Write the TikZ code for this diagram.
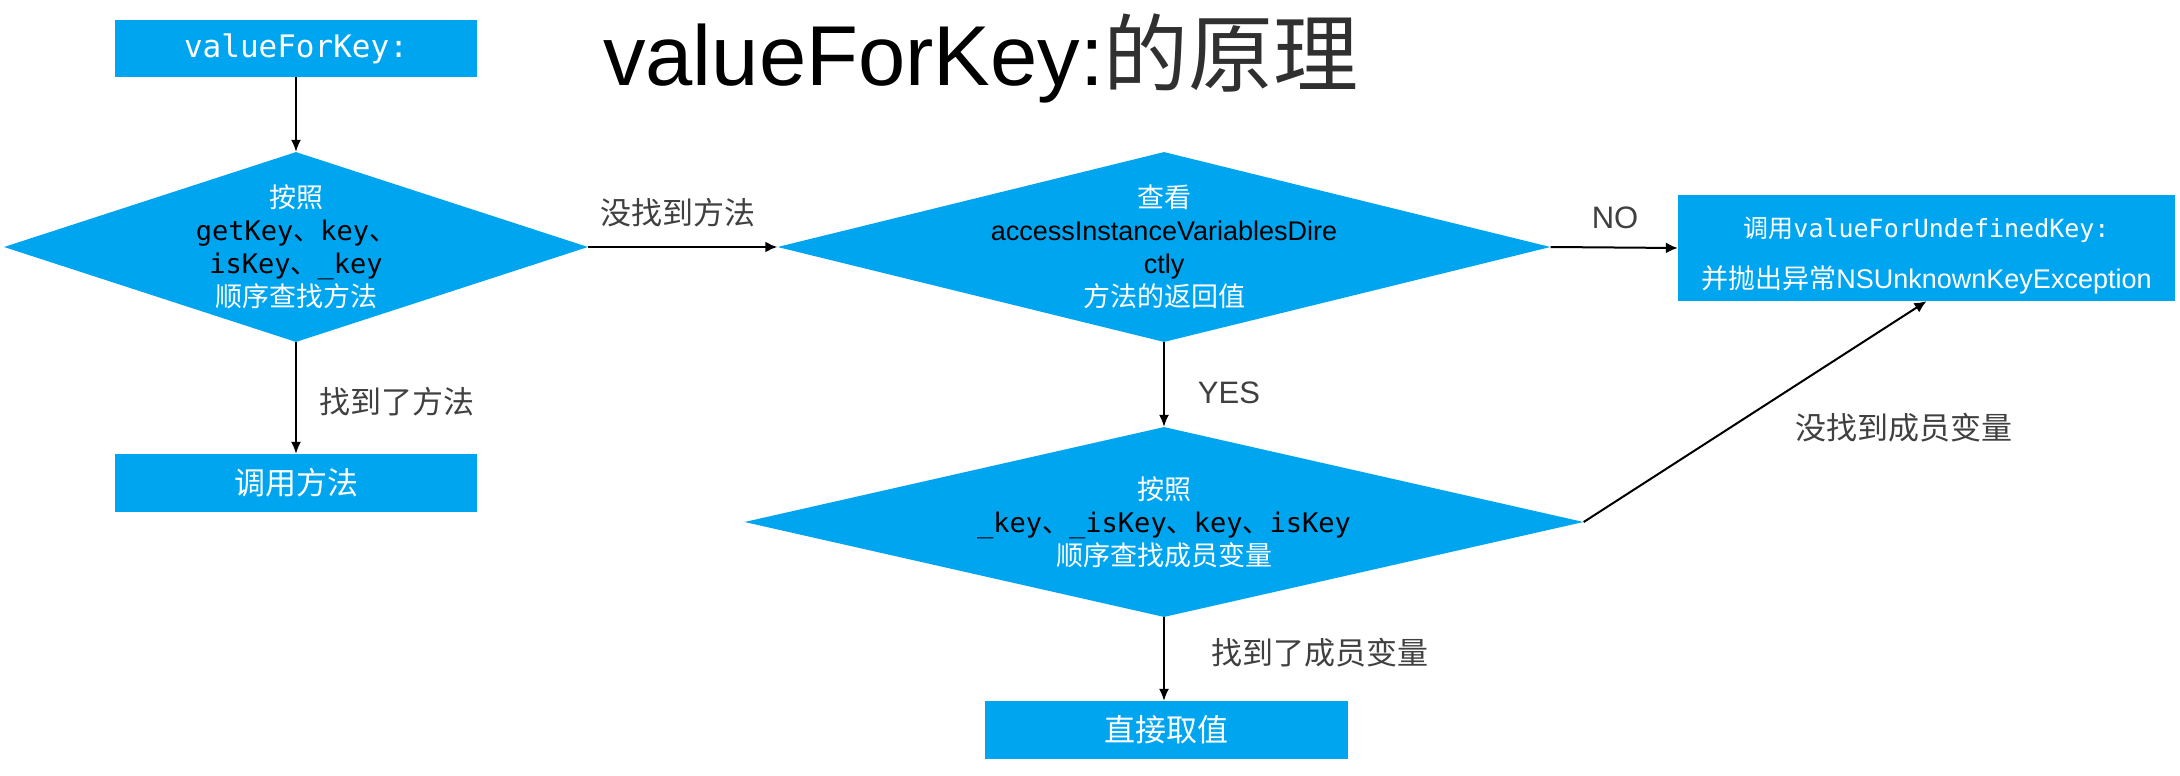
\documentclass[tikz,border=0pt]{standalone}
\usepackage{fontspec}
\setmainfont{Liberation Sans}
\setmonofont{DejaVu Sans Mono}
\newfontfamily\cjk{Noto Sans CJK SC}
\usetikzlibrary{shapes.geometric,arrows.meta}
\definecolor{kblue}{RGB}{0,165,240}
\definecolor{klabel}{RGB}{64,64,64}
\definecolor{ktitle}{RGB}{48,48,48}
\begin{document}
\begin{tikzpicture}[x=1pt,y=-1pt,
  box/.style={rectangle, fill=kblue, text=white, inner sep=0pt, font=\fontsize{31}{36}\selectfont\cjk},
  dia/.style={diamond, fill=kblue, inner sep=0pt},
  arr/.style={-{Latex[length=12pt,width=11pt]}, line width=2pt},
  varr/.style={-{Latex[length=12pt,width=10pt]}, line width=1.6pt},
  lbl/.style={text=klabel, inner sep=0pt, font=\fontsize{31}{36}\selectfont\cjk},
  dtext/.style={align=center, inner sep=0pt, font=\fontsize{27}{33}\selectfont}
]
\fill[white] (0,0) rectangle (2180,776);
\useasboundingbox (0,0) rectangle (2180,776);

% title
\node[anchor=base west, inner sep=0pt] (title) at (603,85)
  {\fontsize{85}{100}\selectfont valueForKey:{\color{ktitle}\cjk 的原理}};

% boxes
\node[box, minimum width=362pt, minimum height=57pt] (tb) at (296,48.5)
  {\ttfamily valueForKey:};
\node[box, minimum width=362pt, minimum height=58pt] (cb) at (296,483) {调用方法};
\node[box, minimum width=363pt, minimum height=58pt] (zb) at (1166.5,730) {直接取值};
\node[box, minimum width=497pt, minimum height=106pt] (rb) at (1926.5,248) {};
\node[align=center, inner sep=0pt, text=white, font=\fontsize{26}{51}\selectfont] (rbt) at ([yshift=-8pt]rb.center)
  {{\fontsize{25}{51}\selectfont{\cjk 调用}\texttt{valueForUndefinedKey:}}\\
   {\fontsize{27}{51}\selectfont{\cjk 并抛出异常}NSUnknownKeyException}};

% diamonds
\node[dia, minimum width=584pt, minimum height=190pt] (d1) at (296,247) {};
\node[dtext] (d1t) at (d1.center)
  {{\color{white}\cjk 按照}\\
   {\ttfamily getKey}{\cjk 、}{\ttfamily key}{\cjk 、}\\
   {\ttfamily isKey}{\cjk 、}{\ttfamily \_key}\\
   {\color{white}\cjk 顺序查找方法}};

\node[dia, minimum width=773pt, minimum height=190pt] (d2) at (1164,247) {};
\node[dtext] (d2t) at (d2.center)
  {{\color{white}\cjk 查看}\\
   accessInstanceVariablesDire\\
   ctly\\
   {\color{white}\cjk 方法的返回值}};

\node[dia, minimum width=839pt, minimum height=190pt] (d3) at (1164,522) {};
\node[dtext] (d3t) at (d3.center)
  {{\color{white}\cjk 按照}\\
   {\ttfamily \_key}{\cjk 、}{\ttfamily \_isKey}{\cjk 、}{\ttfamily key}{\cjk 、}{\ttfamily isKey}\\
   {\color{white}\cjk 顺序查找成员变量}};

% connectors
\draw[varr] (tb.south) -- (d1.north);
\draw[varr] (d1.south) -- (cb.north);
\draw[arr] (d1.east) -- (d2.west);
\draw[arr] (d2.east) -- (rb.west);
\draw[varr] (d2.south) -- (d3.north);
\draw[varr] (d3.south) -- (d3.south |- zb.north);
\draw[arr] (d3.east) -- (rb.south);

% labels
\node[lbl] (l1) at (678,213) {没找到方法};
\node[lbl] (l2) at (397,402) {找到了方法};
\node[lbl, font=\fontsize{31}{36}\selectfont] (l3) at (1615,218) {NO};
\node[lbl, font=\fontsize{31}{36}\selectfont] (l4) at (1229,393) {YES};
\node[lbl] (l5) at (1904,428) {没找到成员变量};
\node[lbl] (l6) at (1320,653) {找到了成员变量};
\end{tikzpicture}
\end{document}
